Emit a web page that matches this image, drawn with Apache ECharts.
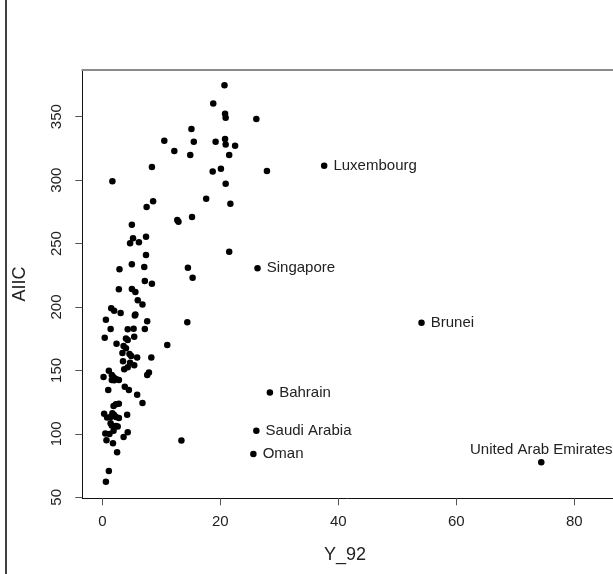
<!DOCTYPE html>
<html>
<head>
<meta charset="utf-8">
<script src="https://cdn.jsdelivr.net/npm/echarts@6/dist/echarts.min.js"></script>
<style>html,body{margin:0;padding:0;background:#fff}#c{width:613px;height:574px}</style>
</head>
<body>
<div id="c"></div>
<script>
// Unlabelled countries: Y_92 values and AIIC values
var xVals = [20.7,18.8,20.8,20.9,26.1,15.1,10.5,15.5,19.2,20.8,20.9,22.5,12.2,14.9,21.5,8.4,1.7,18.7,20.1,27.9,
  20.9,17.6,8.6,7.5,21.7,12.7,12.9,15.2,5.0,5.2,4.7,6.2,7.4,21.5,7.4,5.0,2.9,7.1,14.5,7.2,
  8.4,15.3,2.8,5.0,5.6,6.0,6.8,1.5,2.0,3.1,5.5,5.6,0.6,7.6,14.4,1.4,4.3,5.3,7.2,0.4,
  4.0,4.3,5.4,2.4,11.0,3.6,4.0,3.4,4.6,4.9,5.9,8.3,3.5,4.7,5.4,4.3,3.7,1.1,0.2,1.6,
  1.9,2.3,2.8,1.6,2.0,7.9,7.6,3.8,4.5,1.0,5.9,6.8,1.9,2.3,2.8,0.3,4.2,0.8,1.4,1.7,
  2.0,2.3,2.8,1.4,1.6,2.3,2.6,1.9,4.3,3.6,0.5,1.2,0.7,1.8,13.4,2.5,1.1,0.6];
var yVals = [374.7,360.3,352.4,349.2,348.1,340.3,331.1,330.3,330.3,332.4,328.0,327.1,322.9,319.8,319.8,310.3,299.2,306.7,309.0,307.2,
  297.2,285.4,283.3,278.8,281.3,268.5,267.2,270.9,264.9,254.1,250.2,251.0,255.4,243.6,241.0,233.7,229.7,231.5,231.0,220.5,
  218.4,223.1,213.9,214.2,211.8,205.3,201.9,199.0,197.1,195.3,193.2,194.0,190.0,188.7,187.9,182.7,182.4,182.9,182.7,175.8,
  175.1,174.0,176.6,171.1,170.1,169.3,167.4,163.8,163.0,161.4,160.1,160.1,157.2,156.1,154.0,152.5,150.9,149.8,144.8,146.4,
  144.6,143.3,142.5,142.5,142.2,148.3,146.4,137.2,134.6,134.6,130.9,124.3,122.0,123.3,123.8,115.9,115.1,112.8,113.3,116.2,
  114.9,113.3,112.5,108.3,106.5,106.2,105.7,102.5,101.2,97.5,100.2,99.9,94.9,92.6,94.7,85.5,70.8,62.3];

// Labelled countries
var labelNames = ['Luxembourg','Singapore','Brunei','Bahrain','Saudi Arabia','Oman','United Arab Emirates'];
var labelX = [37.6,26.3,54.1,28.4,26.1,25.6,74.4];
var labelY = [311.4,230.5,187.6,132.5,102.5,84.1,77.6];

// Tick labels
var xTicks = [0,20,40,60,80];
var yTicks = [50,100,150,200,250,300,350];

var FONT = 'Liberation Sans, Arial, Helvetica, sans-serif';
var plain = xVals.map(function(v,i){ return [v, yVals[i]]; });
var named = labelNames.map(function(n,i){
  return {
    value: [labelX[i], labelY[i]], name: n,
    label: n === 'United Arab Emirates' ? {position:'top', distance:2} : {position:'right', distance:6}
  };
});

var chart = echarts.init(document.getElementById('c'), null, {renderer:'canvas'});
chart.setOption({
  animation: false,
  backgroundColor: '#ffffff',
  grid: {left: 82.3, top: 70, right: 0, bottom: 75.7, show: false},
  xAxis: [{
    type: 'value', min: -3.4, max: 86.56, position: 'bottom',
    splitLine: {show: false},
    axisLine: {show: true, onZero: false, lineStyle: {color: '#111', width: 1}},
    axisTick: {show: true, customValues: xTicks, length: 7, lineStyle: {color: '#555'}},
    axisLabel: {customValues: xTicks, margin: 16, fontSize: 15, color: '#222', fontFamily: FONT}
  },{
    type: 'value', min: -3.4, max: 86.56, position: 'top',
    splitLine: {show: false},
    axisLine: {show: true, onZero: false, lineStyle: {color: '#8a8a8a', width: 2}},
    axisTick: {show: false}, axisLabel: {show: false}
  }],
  yAxis: {
    type: 'value', min: 49.2, max: 386.8,
    splitLine: {show: false},
    axisLine: {show: true, onZero: false, lineStyle: {color: '#111', width: 1}},
    axisTick: {show: true, customValues: yTicks, length: 7, lineStyle: {color: '#555'}},
    axisLabel: {customValues: yTicks, rotate: 90, margin: 18, fontSize: 15, color: '#222', fontFamily: FONT}
  },
  series: [{
    type: 'scatter', data: plain, symbolSize: 6.5,
    itemStyle: {color: '#000', opacity: 1}
  },{
    type: 'scatter', data: named, symbolSize: 6.5,
    itemStyle: {color: '#000', opacity: 1},
    label: {show: true, formatter: '{b}', fontSize: 15, color: '#222', fontFamily: FONT}
  }],
  graphic: [
    {type: 'line', shape: {x1: 6, y1: 0, x2: 6, y2: 574}, style: {stroke: '#000', lineWidth: 1.5}},
    {type: 'text', x: 345, y: 555, style: {text: 'Y_92', fontSize: 18, fill: '#222', fontFamily: FONT, align: 'center', verticalAlign: 'middle'}},
    {type: 'text', x: 20, y: 284, rotation: Math.PI/2, style: {text: 'AIIC', fontSize: 18, fill: '#222', fontFamily: FONT, align: 'center', verticalAlign: 'middle'}}
  ]
});
</script>
</body>
</html>
